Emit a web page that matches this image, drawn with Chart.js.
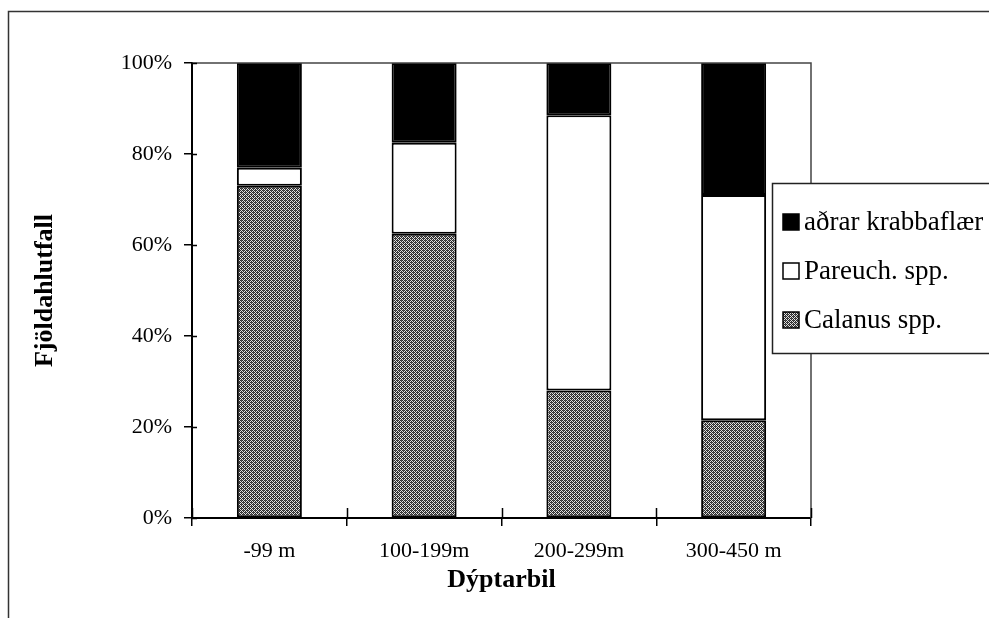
<!DOCTYPE html>
<html><head><meta charset="utf-8">
<script src="https://cdn.jsdelivr.net/npm/chart.js@4/dist/chart.umd.min.js"></script>
<style>html,body{margin:0;padding:0;background:#fff}</style>
</head><body>
<canvas id="c" width="989" height="618"></canvas>
<script>
// Depth bins and the share of each crustacean group (percent)
const depthBins = ['-99 m', '100-199m', '200-299m', '300-450 m'];
const calanus = [73, 62.5, 28, 21.5];
const pareuch = [4, 20, 60.5, 49.5];
const other = [23, 17.5, 11.5, 29];
const seriesNames = ['Calanus spp.', 'Pareuch. spp.', 'aðrar krabbaflær'];
const percentTicks = [0, 20, 40, 60, 80, 100];

const SERIF = "'Liberation Serif', 'DejaVu Serif', serif";
const canvas = document.getElementById('c');
const ctx = canvas.getContext('2d');

// Grey stipple fill used for Calanus
function stipple() {
  const p = document.createElement('canvas');
  p.width = 4; p.height = 4;
  const g = p.getContext('2d');
  g.fillStyle = '#e2e2e2'; g.fillRect(0, 0, 4, 4);
  g.fillStyle = '#2a2a2a';
  for (let y = 0; y < 4; y++) for (let x = 0; x < 4; x++) if ((x + y) % 2 === 0) g.fillRect(x, y, 1, 1);
  g.fillStyle = '#555';
  g.fillRect(1, 0, 1, 1); g.fillRect(3, 2, 1, 1);
  return ctx.createPattern(p, 'repeat');
}
const grey = stipple();

// Outer frame, plot box, inward tick halves and the legend box
const decorations = {
  id: 'decorations',
  beforeDraw(chart) {
    const c = chart.ctx;
    c.save();
    c.fillStyle = '#fff';
    c.fillRect(0, 0, chart.width, chart.height);
    c.strokeStyle = '#333'; c.lineWidth = 1.5;
    c.beginPath();
    c.moveTo(8.5, 618); c.lineTo(8.5, 11.5); c.lineTo(989, 11.5);
    c.stroke();
    c.restore();
  },
  afterDatasetsDraw(chart) {
    const c = chart.ctx, a = chart.chartArea;
    const ys = chart.scales.y;
    c.save();
    // top and right edges of the plot
    c.strokeStyle = '#444'; c.lineWidth = 1.5;
    c.beginPath();
    c.moveTo(a.left, a.top); c.lineTo(a.right, a.top); c.lineTo(a.right, a.bottom);
    c.stroke();
    // inner halves of the crossing ticks
    c.strokeStyle = '#000'; c.lineWidth = 1.5;
    c.beginPath();
    ys.ticks.forEach(t => {
      const y = Math.round(ys.getPixelForValue(t.value)) + 0.5;
      c.moveTo(a.left, y); c.lineTo(a.left + 5, y);
    });
    const n = depthBins.length;
    for (let i = 0; i <= n; i++) {
      const x = Math.round(a.left + (a.right - a.left) * i / n) + 0.5;
      c.moveTo(x, a.bottom); c.lineTo(x, a.bottom - 10);
    }
    c.stroke();
    c.restore();
  },
  afterDraw(chart) {
    const c = chart.ctx;
    const bx = 772, by = 183, bw = 230, bh = 170;
    c.save();
    c.fillStyle = '#fff';
    c.fillRect(bx, by, bw, bh);
    c.strokeStyle = '#222'; c.lineWidth = 1.5;
    c.strokeRect(bx + 0.5, by + 0.5, bw, bh);
    const sets = chart.data.datasets.slice().reverse();
    c.font = '27px ' + SERIF;
    c.textBaseline = 'middle';
    sets.forEach((ds, i) => {
      const cy = by + 39 + i * 49;
      c.fillStyle = ds.backgroundColor;
      c.fillRect(783, cy - 8, 16, 16);
      c.strokeStyle = '#000'; c.lineWidth = 1.5;
      c.strokeRect(783, cy - 8, 16, 16);
      c.fillStyle = '#000';
      c.fillText(ds.label, 804, cy + 1);
    });
    c.restore();
  }
};

new Chart(canvas, {
  type: 'bar',
  data: {
    labels: depthBins,
    datasets: [
      { label: seriesNames[0], data: calanus, backgroundColor: grey },
      { label: seriesNames[1], data: pareuch, backgroundColor: '#ffffff' },
      { label: seriesNames[2], data: other, backgroundColor: '#000000' }
    ].map(d => Object.assign(d, {
      borderColor: '#000', borderWidth: 2, borderSkipped: false,
      barPercentage: 0.84, categoryPercentage: 0.5
    }))
  },
  options: {
    responsive: false,
    animation: false,
    devicePixelRatio: 1,
    layout: { padding: { left: 30, top: 63, right: 178, bottom: 22 } },
    plugins: { legend: { display: false }, tooltip: { enabled: false } },
    scales: {
      x: {
        stacked: true,
        afterFit: s => { s.height = 618 - 22 - 518; },
        grid: { drawOnChartArea: false, drawTicks: true, tickLength: 8, color: '#000', lineWidth: 1.5, offset: true },
        border: { display: true, color: '#000', width: 2 },
        ticks: { color: '#000', padding: 12, font: { family: SERIF, size: 22 } },
        title: { display: true, text: 'Dýptarbil', color: '#000', padding: 0,
                 font: { family: SERIF, size: 26, weight: 'bold' } }
      },
      y: {
        stacked: true,
        min: 0, max: 100,
        afterFit: s => { s.width = 192 - 30; },
        afterBuildTicks: s => { s.ticks = percentTicks.map(v => ({ value: v })); },
        grid: { drawOnChartArea: false, drawTicks: true, tickLength: 8, color: '#000', lineWidth: 1.5 },
        border: { display: true, color: '#000', width: 2 },
        ticks: { color: '#000', padding: 12, font: { family: SERIF, size: 22 },
                 callback: v => v + '%' },
        title: { display: true, text: 'Fjöldahlutfall', color: '#000', padding: 0,
                 font: { family: SERIF, size: 26, weight: 'bold' } }
      }
    }
  },
  plugins: [decorations]
});
</script>
</body></html>
